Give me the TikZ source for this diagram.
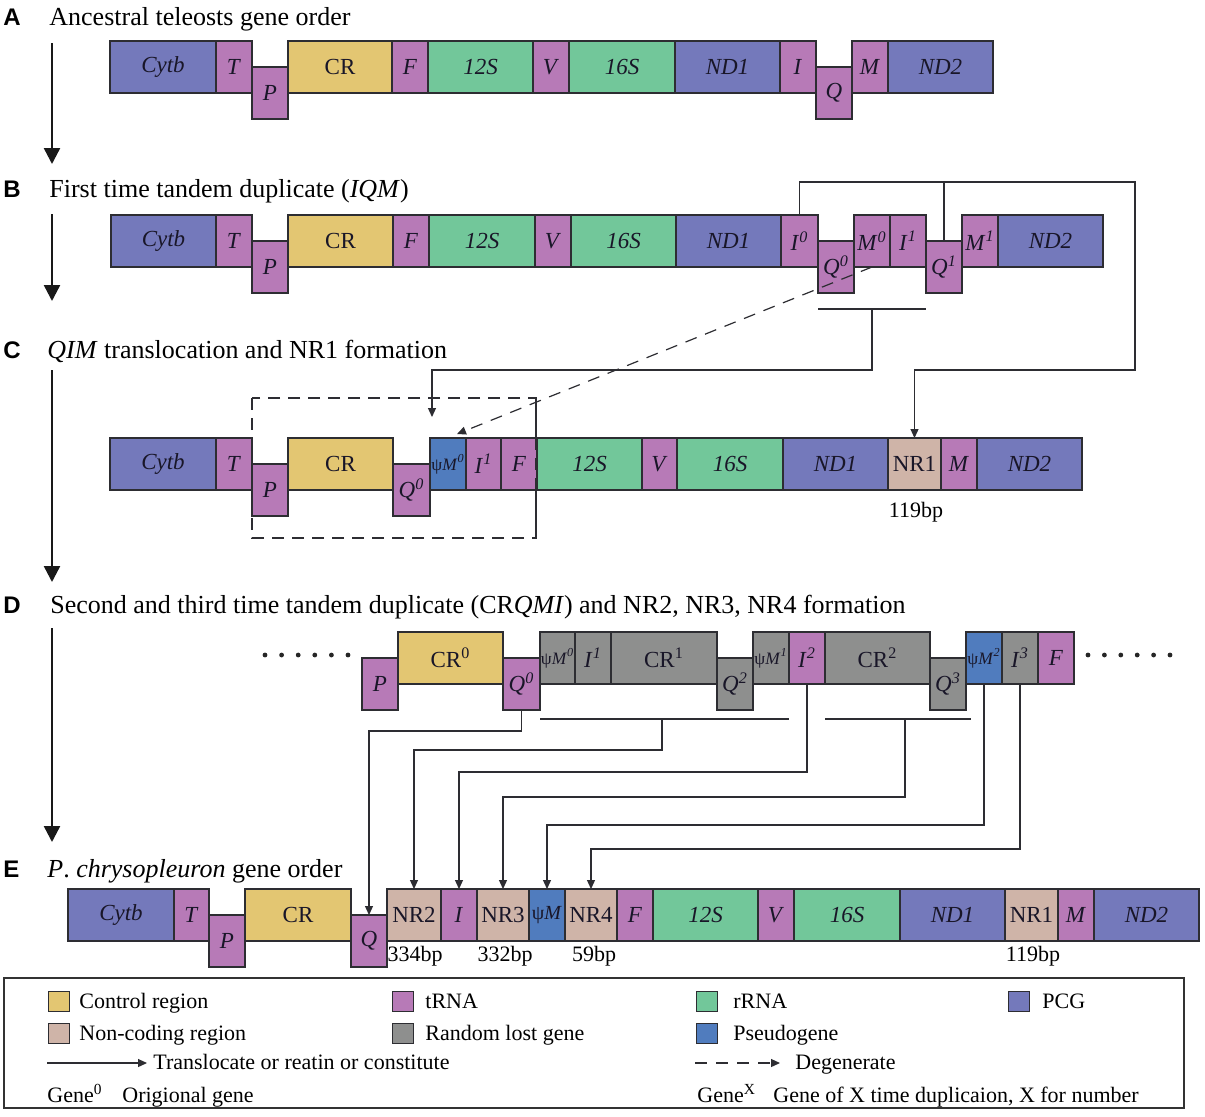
\documentclass[tikz,border=0pt]{standalone}
\usepackage{fontspec}
\setmainfont{Liberation Serif}
\newfontfamily\gfont{Liberation Serif}
\newfontfamily\panelfont{Liberation Sans}
\usetikzlibrary{arrows.meta}
\definecolor{pcg}{RGB}{116,121,187}
\definecolor{trna}{RGB}{183,122,183}
\definecolor{crc}{RGB}{227,198,114}
\definecolor{rrna}{RGB}{114,199,154}
\definecolor{ncr}{RGB}{207,180,168}
\definecolor{lost}{RGB}{142,143,142}
\definecolor{pseudo}{RGB}{80,124,190}
\definecolor{edge}{RGB}{45,45,50}
\definecolor{ink}{RGB}{25,22,40}
\newcommand\gb[6]{\pgfmathsetmacro\gbw{(#3-#2)*0.5}\node[gene,fill=#5,minimum width=\gbw pt,anchor=north west] (#1) at (#2,#4) {#6};}
\newcommand\sps[1]{\textsuperscript{\itshape #1}}
\newcommand\psisize{\fontsize{8.7}{9}\selectfont}
\tikzset{
  gene/.style={draw=edge,line width=0.55pt,minimum height=26pt,inner sep=0pt,outer sep=0pt,text=ink,font=\gfont\fontsize{11.5}{12}\selectfont},
  title/.style={anchor=base west,inner sep=0pt,font=\fontsize{13}{14}\selectfont},
  letter/.style={anchor=base west,inner sep=0pt,font=\panelfont\bfseries\fontsize{12}{13}\selectfont},
  bp/.style={anchor=base,inner sep=0pt,font=\fontsize{11}{12}\selectfont},
  leg/.style={anchor=base west,inner sep=0pt,font=\fontsize{11}{12}\selectfont},
  swatch/.style={draw=edge,line width=0.4pt,minimum width=10.5pt,minimum height=10pt,inner sep=0pt,anchor=north west},
  line/.style={draw=edge,line width=0.6pt},
  conn/.style={line,-{Triangle[length=4.5pt,width=4pt]}},
  dconn/.style={conn,dash pattern=on 6pt off 4.5pt},
  bigarrow/.style={draw=black!90,line width=1.2pt,-{Triangle[length=8pt,width=8pt]}}
}
\begin{document}
\begin{tikzpicture}[x=0.5pt,y=-0.5pt]
\useasboundingbox[fill=white] (0,0) rectangle (1205,1116);

% ---------- titles ----------
\node[letter] (lA) at (3,25) {A};
\node[title] (tA) at (49,25) {Ancestral teleosts gene order};
\node[letter] (lB) at (3,197) {B};
\node[title] (tB) at (49,197) {First time tandem duplicate (\textit{IQM})};
\node[letter] (lC) at (3,358) {C};
\node[title] (tC) at (47,358) {\textit{QIM} translocation and NR1 formation};
\node[letter] (lD) at (3,613) {D};
\node[title] (tD) at (50,613) {Second and third time tandem duplicate (CR\textit{QMI}) and NR2, NR3, NR4 formation};
\node[letter] (lE) at (3,877) {E};
\node[title] (tE) at (47,877) {\textit{P}. \textit{chrysopleuron} gene order};

% ---------- left arrows ----------
\coordinate (vA1) at (52,43); \coordinate (vA2) at (52,164);
\coordinate (vB1) at (52,214); \coordinate (vB2) at (52,301);
\coordinate (vC1) at (52,370); \coordinate (vC2) at (52,582);
\coordinate (vD1) at (52,628); \coordinate (vD2) at (52,842);
\draw[bigarrow] (vA1) -- (vA2);
\draw[bigarrow] (vB1) -- (vB2);
\draw[bigarrow] (vC1) -- (vC2);
\draw[bigarrow] (vD1) -- (vD2);

% ---------- row A ----------
\gb{aCytb}{110}{216}{41}{pcg}{\textit{Cytb}}
\gb{aT}{216}{252}{41}{trna}{\textit{T}}
\gb{aP}{252}{288}{67}{trna}{\textit{P}}
\gb{aCR}{288}{392}{41}{crc}{CR}
\gb{aF}{392}{428}{41}{trna}{\textit{F}}
\gb{aRa}{428}{533}{41}{rrna}{\textit{12S}}
\gb{aV}{533}{569}{41}{trna}{\textit{V}}
\gb{aRb}{569}{675}{41}{rrna}{\textit{16S}}
\gb{aNDa}{675}{780}{41}{pcg}{\textit{ND1}}
\gb{aI}{780}{816}{41}{trna}{\textit{I}}
\gb{aQ}{816}{852}{67}{trna}{\textit{Q}}
\gb{aM}{852}{888}{41}{trna}{\textit{M}}
\gb{aNDb}{888}{993}{41}{pcg}{\textit{ND2}}

% ---------- row B ----------
\gb{bCytb}{111}{216}{215}{pcg}{\textit{Cytb}}
\gb{bT}{216}{252}{215}{trna}{\textit{T}}
\gb{bP}{252}{288}{241}{trna}{\textit{P}}
\gb{bCR}{288}{393}{215}{crc}{CR}
\gb{bF}{393}{429}{215}{trna}{\textit{F}}
\gb{bRa}{429}{535}{215}{rrna}{\textit{12S}}
\gb{bV}{535}{571}{215}{trna}{\textit{V}}
\gb{bRb}{571}{676}{215}{rrna}{\textit{16S}}
\gb{bNDa}{676}{781}{215}{pcg}{\textit{ND1}}
\gb{bIz}{781}{818}{215}{trna}{\textit{I}\sps{0}}
\gb{bQz}{818}{854}{241}{trna}{\textit{Q}\sps{0}}
\gb{bMz}{854}{890}{215}{trna}{\textit{M}\sps{0}}
\gb{bIo}{890}{926}{215}{trna}{\textit{I}\sps{1}}
\gb{bQo}{926}{962}{241}{trna}{\textit{Q}\sps{1}}
\gb{bMo}{962}{998}{215}{trna}{\textit{M}\sps{1}}
\gb{bNDb}{998}{1103}{215}{pcg}{\textit{ND2}}

% ---------- row C ----------
\draw[line,dash pattern=on 6pt off 4pt] (252,398) rectangle (536,538);
\gb{cCytb}{110}{216}{438}{pcg}{\textit{Cytb}}
\gb{cT}{216}{252}{438}{trna}{\textit{T}}
\gb{cP}{252}{288}{464}{trna}{\textit{P}}
\gb{cCR}{288}{393}{438}{crc}{CR}
\gb{cQz}{393}{430}{464}{trna}{\textit{Q}\sps{0}}
\gb{cPMz}{430}{466}{438}{pseudo}{\psisize ψ\textit{M}\sps{0}}
\gb{cIo}{466}{501}{438}{trna}{\textit{I}\sps{1}}
\gb{cF}{501}{537}{438}{trna}{\textit{F}}
\gb{cRa}{537}{642}{438}{rrna}{\textit{12S}}
\gb{cV}{642}{677}{438}{trna}{\textit{V}}
\gb{cRb}{677}{783}{438}{rrna}{\textit{16S}}
\gb{cNDa}{783}{888}{438}{pcg}{\textit{ND1}}
\gb{cNRa}{888}{941}{438}{ncr}{NR1}
\gb{cM}{941}{977}{438}{trna}{\textit{M}}
\gb{cNDb}{977}{1082}{438}{pcg}{\textit{ND2}}
\draw[line,dash pattern=on 6pt off 4pt] (536,398) -- (536,538);
\node[bp] (cBp) at (916,517) {119bp};

% ---------- row B -> C connectors ----------
\coordinate (bTopR) at (1135,182);
\coordinate (cTurnR) at (1135,370);
\draw[line] (bQo.north) -- (bQo.north |- bTopR);
\draw[conn] (bIz.north) |- (bTopR) -- (cTurnR) -| (cNRa.north);
\coordinate (bBrL) at (818,309); \coordinate (bBrR) at (926,309);
\coordinate (bBrC) at (872,309); \coordinate (cTurnL) at (872,370);
\coordinate (cTgtL) at (432,417);
\draw[line] (bBrL) -- (bBrR);
\draw[conn] (bBrC) -- (cTurnL) -| (cTgtL);
\coordinate (cTgtD) at (457,434);
\draw[dconn] (bMz.south) -- (cTgtD);

% ---------- row D ----------
\foreach \i in {265,281.6,298.2,314.8,331.4,348} {\fill[black!85] (\i,655) circle (1.2pt);}
\foreach \i in {1088,1104.4,1120.8,1137.2,1153.6,1170} {\fill[black!85] (\i,655) circle (1.2pt);}
\gb{dP}{362}{398}{658}{trna}{\textit{P}}
\gb{dCRz}{398}{503}{632}{crc}{CR\textsuperscript{0}}
\gb{dQz}{503}{540}{658}{trna}{\textit{Q}\sps{0}}
\gb{dPMz}{540}{575}{632}{lost}{\psisize ψ\textit{M}\sps{0}}
\gb{dIo}{575}{611}{632}{lost}{\textit{I}\sps{1}}
\gb{dCRo}{611}{717}{632}{lost}{CR\textsuperscript{1}}
\gb{dQt}{717}{753}{658}{lost}{\textit{Q}\sps{2}}
\gb{dPMo}{753}{789}{632}{lost}{\psisize ψ\textit{M}\sps{1}}
\gb{dIt}{789}{825}{632}{trna}{\textit{I}\sps{2}}
\gb{dCRt}{825}{930}{632}{lost}{CR\textsuperscript{2}}
\gb{dQh}{930}{966}{658}{lost}{\textit{Q}\sps{3}}
\gb{dPMt}{966}{1002}{632}{pseudo}{\psisize ψ\textit{M}\sps{2}}
\gb{dIh}{1002}{1038}{632}{lost}{\textit{I}\sps{3}}
\gb{dF}{1038}{1074}{632}{trna}{\textit{F}}

% ---------- row E ----------
\gb{eCytb}{68}{174}{889}{pcg}{\textit{Cytb}}
\gb{eT}{174}{209}{889}{trna}{\textit{T}}
\gb{eP}{209}{245}{915}{trna}{\textit{P}}
\gb{eCR}{245}{351}{889}{crc}{CR}
\gb{eQ}{351}{387}{915}{trna}{\textit{Q}}
\gb{eNRb}{387}{441}{889}{ncr}{NR2}
\gb{eI}{441}{477}{889}{trna}{\textit{I}}
\gb{eNRc}{477}{529}{889}{ncr}{NR3}
\gb{ePM}{529}{565}{889}{pseudo}{\fontsize{10}{11}\selectfont ψ\textit{M}}
\gb{eNRd}{565}{617}{889}{ncr}{NR4}
\gb{eF}{617}{653}{889}{trna}{\textit{F}}
\gb{eRa}{653}{758}{889}{rrna}{\textit{12S}}
\gb{eV}{758}{794}{889}{trna}{\textit{V}}
\gb{eRb}{794}{900}{889}{rrna}{\textit{16S}}
\gb{eNDa}{900}{1005}{889}{pcg}{\textit{ND1}}
\gb{eNRa}{1005}{1058}{889}{ncr}{NR1}
\gb{eM}{1058}{1094}{889}{trna}{\textit{M}}
\gb{eNDb}{1094}{1199}{889}{pcg}{\textit{ND2}}
\node[bp] (eBpb) at (415,961) {334bp};
\node[bp] (eBpc) at (505,961) {332bp};
\node[bp] (eBpd) at (594,961) {59bp};
\node[bp] (eBpa) at (1033,961) {119bp};

% ---------- row D -> E connectors ----------
\coordinate (dBrAL) at (540,719); \coordinate (dBrAR) at (789,719); \coordinate (dBrAC) at (662,719);
\coordinate (dBrBL) at (825,719); \coordinate (dBrBR) at (971,719); \coordinate (dBrBC) at (905,719);
\draw[line] (dBrAL) -- (dBrAR);
\draw[line] (dBrBL) -- (dBrBR);
\coordinate (k1) at (521.5,731);
\coordinate (k2) at (662,750);
\coordinate (k3) at (807,772);
\coordinate (k4) at (905,797);
\coordinate (k5) at (984,825);
\coordinate (k6) at (1020,849);
\draw[conn] (dQz.south) -- (k1) -| (eQ.north);
\draw[conn] (dBrAC) -- (k2) -| (eNRb.north);
\draw[conn] (dIt.south) -- (k3) -| (eI.north);
\draw[conn] (dBrBC) -- (k4) -| (eNRc.north);
\draw[conn] (dPMt.south) -- (k5) -| (ePM.north);
\draw[conn] (dIh.south) -- (k6) -| (eNRd.north);

% ---------- legend ----------
\draw[draw=black!80,line width=0.9pt] (4,978) rectangle (1184,1108);
\node[swatch,fill=crc] (sCR) at (48,991) {};
\node[leg] (xCR) at (79,1008) {Control region};
\node[swatch,fill=trna] (sT) at (392,991) {};
\node[leg] (xT) at (425,1008) {tRNA};
\node[swatch,fill=rrna] (sR) at (696,991) {};
\node[leg] (xR) at (733,1008) {rRNA};
\node[swatch,fill=pcg] (sP) at (1008,991) {};
\node[leg] (xP) at (1042,1008) {PCG};
\node[swatch,fill=ncr] (sN) at (48,1023) {};
\node[leg] (xN) at (79,1040) {Non-coding region};
\node[swatch,fill=lost] (sL) at (392,1023) {};
\node[leg] (xL) at (425,1040) {Random lost gene};
\node[swatch,fill=pseudo] (sPs) at (696,1023) {};
\node[leg] (xPs) at (733,1040) {Pseudogene};
\coordinate (la1) at (47,1063); \coordinate (la2) at (147,1063);
\draw[conn] (la1) -- (la2);
\node[leg] (xA) at (153,1069) {Translocate or reatin or constitute};
\coordinate (ld1) at (695,1063); \coordinate (ld2) at (780,1063);
\draw[dconn] (ld1) -- (ld2);
\node[leg] (xD) at (795,1069) {Degenerate};
\node[leg] (xG0) at (47,1102) {Gene\textsuperscript{0}};
\node[leg] (xO) at (122,1102) {Origional gene};
\node[leg] (xGX) at (697,1102) {Gene\textsuperscript{X}};
\node[leg] (xX) at (773,1102) {Gene of X time duplicaion, X for number};
\end{tikzpicture}
\end{document}
